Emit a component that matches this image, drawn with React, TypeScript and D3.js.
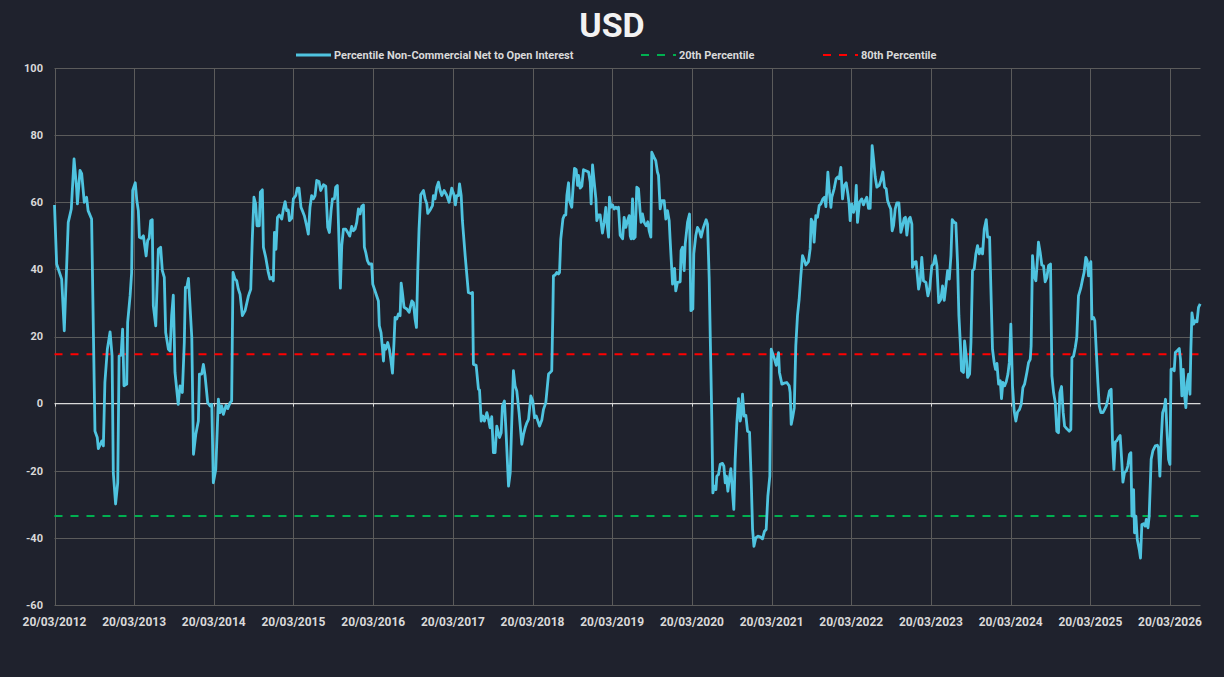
import React, { useRef, useEffect } from "react";
import * as d3 from "d3";

// weeks since 20/03/2012 and the percentile reading at that week
const weekIndex = [
  0, 1.4, 4.7, 6.4, 9, 11, 12.8, 14.5, 15, 16.7, 17.8, 19.5, 21, 22, 24.3, 26.5, 28, 28.7, 31, 32, 33, 34.6, 36.4, 37.7,
  38.5, 40, 41.4, 42.3, 43.6, 44.6, 45.5, 47.3, 47.9, 49.5, 50.5, 51.2, 52.9, 53.9, 54.9, 55.6, 57, 58.2, 60, 61, 62,
  63, 64, 64.7, 66.3, 68, 69.5, 70.6, 71.9, 72.8, 74.6, 75.7, 76.7, 77.8, 78.9, 81, 82.2, 83.7, 85, 85.7, 86.6, 87.7,
  89.9, 91, 92.5, 94.2, 94.9, 96.4, 97.5, 98.6, 100.3, 101.9, 103, 104, 105.6, 107.3, 108.4, 109.5, 110.6, 112.3,
  113.4, 115, 116, 116.9, 118.2, 119.3, 120.4, 121.5, 123, 124.8,
  127, 128.5, 129.5, 130.6, 131.7, 132.6, 134.1, 134.8, 136.1, 136.8, 138.3, 140, 141.1, 142.2, 143.3, 144, 145, 146,
  147.2, 148.8, 149.9, 151, 152, 153.1, 153.8, 155.3, 156.4, 158, 159, 160.1, 161.4, 162.3, 163.6, 165.1, 166.2, 167.3,
  168.4, 169.5, 170.6, 171.7, 173.2, 174.3, 176.1, 177.6, 178.9, 180, 181.1, 182, 183.3, 184.1, 185.2, 186.3, 187.2,
  188.1, 189.2, 190.7, 192, 193.3, 194.6, 195.7, 196.8, 197.9, 199, 200.1, 201.2, 202.3, 202.9, 203.8, 204.9, 206,
  207.7, 208.4, 210.6, 212.1, 212.7, 213.8, 214.7, 215.4, 216, 216.9, 218.2, 219.3, 220.2, 221.3, 222.3, 223, 224.1,
  225.2, 226.3, 227, 227.8, 228.9, 230.7, 232.2, 234, 235, 236.1, 237, 237.9, 238.7, 239.8, 241.6, 242.7, 243.8,
  244.4, 246, 247.5, 248.1, 249.2, 250.3, 251.4, 252.5,
  253.6, 255.1, 256.9, 258.4, 260.1, 261.7, 262.5, 263.4, 264.5, 265.2, 266.3, 267.1, 268.9, 271, 272.6, 273.7, 274.3,
  276.1, 277.6, 278.3, 279.4, 280.5, 281.5, 283.1, 284.2, 285.2, 286.3, 287.4, 288.5, 289.6, 291.4, 292.5, 293.3,
  294.6, 295.7, 297.3, 298.4, 299.4, 300.5, 301.6, 302.7, 304.2, 306, 307.1, 308.2, 309.3, 310.4, 311.9, 313.2, 314.3,
  315.4, 316.3, 317.6, 319.1, 320.2, 321.7, 323.5, 324.6, 325.6, 326.3, 326.7, 327.8, 328.9, 330, 330.7, 331.5, 332.9,
  333.7, 334.8, 335.5, 336.6, 337.2, 338.7, 339.8, 340.5, 341.6, 342.5, 343.1, 344.2, 345.3, 346.4, 347.9, 349.7,
  350.8, 351.4, 352.3, 353.4, 354.5, 355.1, 356.2, 357.3, 358.8, 359.9, 361, 361.7, 362.8, 363.4, 364.3, 365.4, 366.5,
  367.6, 368.7, 369.3, 370.4, 372, 373, 374.1, 375.2, 376.3, 377, 377.6, 378.5, 379.2, 380.2, 381.3,
  382.4, 383.5, 384.1, 385, 386.1, 387.4, 388.5, 389.4, 390.5, 391.1, 392.6, 393.7, 394.8, 395.5, 396.6, 397.7, 399.2,
  400.3, 401.4, 402.5, 403.1, 404.7, 406, 406.8, 407.9, 409.7, 410.3, 411.2, 412.3, 413, 414.5, 415.8, 416.7, 418,
  418.6, 419.9, 421, 422.3, 423.4, 424.9, 426.7, 427.6, 428.7, 429.5, 430.4, 431.1, 432, 433.1, 433.7, 434.8, 435.9,
  437.4, 438.3, 439.2, 440, 440.9, 441.8, 442.9, 444, 444.8, 445.7, 446.8, 447.9, 449, 449.6, 450.5, 451.6, 452.7,
  453.8, 455.1, 456.2, 457.1, 458, 459.2, 460.5, 462.1, 463.6, 464.9, 466, 467.1, 468.4, 469.3, 470.4, 471.5, 472.6,
  474.1, 474.7, 476.3, 477.8, 479.5, 481.1, 481.7, 482.4, 483.3, 484.4, 485.4, 486.5, 487.6, 488.7, 489.8, 491.1, 492,
  493.7, 494.8, 495.5, 496.6, 497.4, 498.5, 499.6, 500.7, 501.8, 503.1, 504.2, 505.1, 506.4, 507.3, 508.4,
  509, 510.5, 511.8, 512.9, 513.8, 514.9, 516, 517.1, 518.4, 519.5, 520.3, 521, 522.1, 523.2, 524.3, 525, 525.8, 527.1,
  528.6, 529.7, 530.8, 531.9, 533, 534.1, 535.4, 536.3, 537.4, 538.5, 540, 541.1, 542.4, 543.5, 544.6, 545.5, 546.5,
  547.6, 548.5, 549.4, 550.5, 551.6, 552.9, 554.2, 555.3, 556.4, 557.2, 558.1, 559.4, 560.3, 561.4, 561.8, 563.1,
  564.2, 565.8, 566.9, 567.9, 569, 570.6, 571.9, 573, 574.5, 575.6, 576.7, 577.8, 579, 580.4, 581.5, 582.6, 583.7,
  584.8, 585.9, 587, 587.8, 589.1, 590.2, 591.3, 592.2, 593.1, 593.9, 595.2, 595.9, 597, 597.9, 599.2, 600.1, 601.1,
  602.2, 603.3, 604.4, 605.5, 606.6, 607.7, 608.8, 610.1, 611, 612.3, 613.1, 614.2, 615.3, 616.2, 617.1, 618.2, 619.3,
  620.1, 621, 622.1, 623.2, 624.3, 625.2, 626.2, 627.3, 628.4, 629.5, 630.6, 631.9, 633, 634.1, 635.2,
  636.7, 637.8, 638.9, 639.5, 640.4, 641.5, 642.6, 643.5, 644.3, 645.4, 646.5, 647.6, 648.7, 649.8, 650.9, 652.2,
  653.1, 654.2, 655.3, 656.3, 657.4, 658.3, 659.4, 660.5, 661.4, 662.9, 664.4, 665.5, 666.2, 667.3, 668.4, 669.4,
  670.5, 672.1, 673.2, 674.2, 675.3, 676.2, 677.1, 677.7, 678.6, 679.3, 680.4, 681.2, 682.1, 683.2, 684.1, 685.2,
  686.5, 687.6, 688.7, 689.7, 690.8, 691.9, 692.8, 693.7, 694.6, 695.6, 696.7, 697.8, 698.9, 699.6, 700.7, 701.8,
  702.8, 703.9, 704.8, 705.5, 706.6, 707.2, 708.1, 709, 710.3, 711.1, 712, 713.1, 714.2, 714.9, 716, 716.8, 718.1,
  719.2, 720.8, 722.1, 722.9, 723.8, 724.7, 725.6, 726.7, 727.5, 728.4, 729.5, 730.4, 731.1, 732.4, 733.2, 733.9, 735,
  736.5, 737.3, 738.2, 739.1, 740, 740.8, 741.7, 742.6, 743.5, 744.1, 744.8, 745.9, 747, 748.1, 749.1, 750.2,
];

const netToOpenInterest = [
  59.2, 41.6, 37.1, 21.7, 54, 58, 72.9, 64, 59.5, 69.5, 68.5, 60, 61.5, 57.5, 55, -8.2, -10.1, -13.4, -11.1, -12.6,
  6.3, 16.2, 21.4, 14.2, -20.6, -29.9, -23.6, 14.2, 14.4, 22.2, 5.3, 5.8, 24.2, 32.1, 39, 63.5, 65.8, 60.5, 57.5,
  49.6, 49.3, 50, 44, 48.6, 49.3, 54.5, 54.8, 29.2, 23.2, 46, 46.6, 39.6, 37.6, 21.2, 16.2, 15.7, 26.2, 32.3, 9.3,
  -0.2, 5.3, 3.3, 18.2, 34.6, 34.6, 37.3, 19.7, -15.1, -9.2, -5.2, 8.8, 8.8, 11.7, 8.3, 0.3, -0.7, -0.2, -23.6, -19.6,
  1.3, -2.7, -0.7, -3.2, -0.5, -1.5, 0.3, 0.8, 39.1, 37.1, 36.6, 34.1, 32.6, 26.2, 27.7,
  32.1, 34.1, 49, 61.5, 59.5, 53, 53, 63, 63.7, 46.6, 43.6, 39.1, 37.1, 37.6, 36.6, 51, 46, 55.5, 56.2, 55, 58, 60.2,
  57.5, 57.7, 54.5, 55.2, 61, 62, 64.2, 64.2, 58.5, 57.5, 56, 53, 50.5, 58.5, 62, 61, 62, 66.5, 66.2, 63.5, 65.2,
  64.8, 52.5, 51, 57.5, 61, 61, 64.5, 65, 48.1, 34.4, 47.1, 52, 52, 51, 49.9, 52.8, 51.5, 52, 54, 58, 56.5, 58.8,
  59.2, 46.6, 45.1, 42.6, 41.6, 41.6, 35.6, 32.6, 30.6, 23.2, 21.2, 16.7, 12.7, 17.4, 16.2, 18.2, 16.2, 13.2, 9.1,
  18.2, 25.7, 25.2, 26.7, 26.2, 35.9, 33.1, 28.7, 28.2, 27.2, 30.6, 30.1, 25.2, 22.7, 40.1, 52, 62.2, 63.5, 61, 59.5,
  56.7, 57.7, 59, 62, 61, 64.5, 66, 63.5,
  62, 63.5, 62, 60, 64.2, 62, 59.2, 62, 62, 65.5, 62, 54.5, 44.1, 33.1, 32.8, 33.1, 11.7, 11.4, 4.3, 4.1, -5.2, -3.7,
  -5.2, -2.7, -4.7, -7.2, -3.9, -14.6, -14.6, -6.7, -10.1, -8.7, -0.7, 0.8, -8.7, -24.6, -20.6, -5.7, 9.8, 5.3, 3.8,
  -2.7, -12.1, -9.2, -7.2, -5.7, -4.7, 2.3, 0.8, -4.2, -3.7, -4.9, -6.7, -4.9, -1.7, 0.3, 8.8, 9.3, 9.8, 26.2, 38.1,
  38.3, 39.1, 38.6, 39.1, 49, 55, 56, 56.2, 62, 65.8, 60.5, 58.5, 66, 70.1, 69.7, 65, 68, 64.2, 64.8, 69.7, 69.4, 69,
  66, 59.5, 71.1, 66, 61, 54.5, 56.2, 56.2, 50.8, 54, 58.5, 54, 49.6, 61.5, 58.5, 59.2, 58, 58.5, 58, 58.5, 50.2,
  49.1, 55.5, 52.5, 54.5, 56, 50, 49.1, 61, 49.1, 49.6, 64.5,
  64, 57, 54, 56.5, 54, 53, 54.2, 51.5, 49.6, 74.9, 73.4, 72.4, 69, 68, 58, 60.5, 60.5, 55, 57.5, 54.5, 49, 35.6,
  40.3, 33.6, 36.1, 36.3, 45.6, 46.6, 39.6, 47.6, 54, 56.5, 27.7, 28.2, 44.6, 50, 52.5, 51.5, 49.6, 52.5, 54.8, 53.5,
  37.1, 17.2, -4.7, -26.6, -24.6, -25.6, -21.6, -21.1, -18.1, -17.8, -18.6, -23.6, -21.6, -26.1, -22.6, -19.4,
  -26.6, -31.5, -16.6, -5.7, 1.5, -5.2, -3.7, 2.8, -3.7, -3.5, -8.2, -8.5, -22.6, -37.5, -42.5, -40, -39.5, -39.7,
  -40.3, -38, -37.5, -27.6, -21.6, 16.2, 14.7, 13.2, 11.4, 15.2, 9.3, 5.8, 6.1, 6.3, 5.3, 3.3, -6.2, -4.2, -1.2,
  17.2, 26.2, 31.1, 38.1, 44.1, 42.6, 41.3, 42.3, 46.1, 55, 54, 48.1, 56, 55.5, 59, 59.5, 61, 61.5, 58.7, 69, 63.5,
  58.5,
  61.5, 64, 67, 67.5, 67, 70.4, 61, 65, 65.8, 62.5, 59.5, 54.5, 59.5, 57, 59, 65, 54, 60, 61, 59.2, 60.5, 61.5, 58.2,
  58.2, 76.9, 72.9, 67.5, 64.5, 65, 66.5, 69, 64.5, 64, 60.5, 59.2, 58, 51.5, 53, 58, 59.8, 59.8, 51, 53, 55.2, 55.5,
  50.2, 55, 55.5, 53.5, 40.6, 42.1, 42.3, 34.1, 36.6, 43.6, 36.6, 36.1, 32.1, 34.1, 41.1, 41.6, 44.1, 41.1, 30.1,
  31.1, 35.1, 30.8, 35.1, 39.6, 37.1, 44.1, 54.8, 54, 53.8, 42.1, 26.2, 18.2, 9.8, 9.3, 18.7, 14.2, 7.8, 8.8, 18.2,
  39.6, 40.1, 44.6, 47.1, 44.6, 46.1, 44.6, 52, 54.8, 49.6, 49.6, 35.1, 16.2, 12.2, 10.2, 12, 5.8, 6.8, 1.5, 6.3,
  5.3, 6.5, 8.8, 12.2, 23.7, 5.3, -2.2, -5.2, -2.5, -1.7, -0.2, 4.8, 5.8,
  9.3, 12.2, 13.2, 17.2, 44.1, 38.1, 36.6, 42.1, 48.1, 45.1, 41.3, 41.1, 36.3, 37.6, 41.1, 41.6, 8.3, 3.3, 0.3, -8.2,
  -8.7, 3.3, 5.1, -2.7, -6.7, -7.5, -8.2, -7.7, 13.7, 14.2, 16.7, 19.7, 32.1, 34.6, 37.1, 39.1, 43.6, 42.6, 38.1,
  41.1, 42.3, 25.2, 25.7, 24.7, 16.2, 6.3, -0.7, -2.7, -2.7, -1.7, -0.7, 1.3, 3.8, 4.3, -11.6, -19.6, -11.4, -11.1,
  -10.1, -9.5, -17.6, -23.4, -20.4, -20.1, -18.6, -15.1, -14.6, -33.5, -25.6, -38.5, -33.5, -40.5, -43.5, -46, -36,
  -35.8, -36.5, -34.5, -37, -33.5, -16.6, -14.1, -12.6, -12.4, -13.1, -21.6, -10.6, -2.7, -1.2, 1.3, -7.7, -16.6,
  -18.1, 10.2, 10.4, 9.8, 15.2, 15.7, 16.4, 13.2, 2.3, 10.2, 2.3, -1.2, 6.3, 8.8, 2.8, 16.2, 27, 23.7, 24.7, 24.4,
  28.7, 29.7,
];

const tickYears = d3.range(2012, 2027);
const yTicks = [-60, -40, -20, 0, 20, 40, 60, 80, 100];
const pct20 = -33.5;
const pct80 = 14.7;
const lastWeek = 750.4;

const WEEK = 7 * 24 * 3600 * 1000;
const START = Date.UTC(2012, 2, 20);

const App: React.FC = () => {
  const ref = useRef<SVGSVGElement>(null);

  useEffect(() => {
    if (!ref.current) return;
    const svg = d3.select(ref.current);
    svg.selectAll("*").remove();

    const width = 1224;
    const height = 677;
    const left = 54.5;
    const right = 1200.5;
    const top = 68;
    const bottom = 605;
    const font = "Roboto, 'Liberation Sans', sans-serif";

    svg.append("rect").attr("width", width).attr("height", height).attr("fill", "#1f222d");

    const x = d3
      .scaleUtc()
      .domain([new Date(START), new Date(START + lastWeek * WEEK)])
      .range([left, right]);
    const y = d3.scaleLinear().domain([-60, 100]).range([bottom, top]);

    const tickDates = tickYears.map((yr) => new Date(Date.UTC(yr, 2, 20)));
    const fmt = d3.utcFormat("%d/%m/%Y");

    // horizontal gridlines
    svg
      .append("g")
      .selectAll("line")
      .data(yTicks.filter((v) => v !== 0))
      .join("line")
      .attr("x1", left)
      .attr("x2", right)
      .attr("y1", (d) => Math.round(y(d)) + 0.5)
      .attr("y2", (d) => Math.round(y(d)) + 0.5)
      .attr("stroke", "#5b5b5b")
      .attr("stroke-width", 1);

    // vertical gridlines
    svg
      .append("g")
      .selectAll("line")
      .data(tickDates)
      .join("line")
      .attr("x1", (d) => Math.round(x(d)) + 0.5)
      .attr("x2", (d) => Math.round(x(d)) + 0.5)
      .attr("y1", top)
      .attr("y2", bottom)
      .attr("stroke", "#5b5b5b")
      .attr("stroke-width", 1);

    // zero axis line with small ticks
    svg
      .append("line")
      .attr("x1", left)
      .attr("x2", right)
      .attr("y1", y(0))
      .attr("y2", y(0))
      .attr("stroke", "#d9d9d9")
      .attr("stroke-width", 1.3);
    svg
      .append("g")
      .selectAll("line")
      .data(tickDates)
      .join("line")
      .attr("x1", (d) => Math.round(x(d)) + 0.5)
      .attr("x2", (d) => Math.round(x(d)) + 0.5)
      .attr("y1", y(0))
      .attr("y2", y(0) + 3)
      .attr("stroke", "#d9d9d9")
      .attr("stroke-width", 1);

    // percentile threshold lines
    const thresholds = [
      { v: pct20, color: "#00b050" },
      { v: pct80, color: "#ff0000" },
    ];
    svg
      .append("g")
      .selectAll("line")
      .data(thresholds)
      .join("line")
      .attr("x1", left)
      .attr("x2", right)
      .attr("y1", (d) => y(d.v))
      .attr("y2", (d) => y(d.v))
      .attr("stroke", (d) => d.color)
      .attr("stroke-width", 2)
      .attr("stroke-dasharray", "8,8");

    // series
    const points = weekIndex.map((w, i) => ({
      date: new Date(START + w * WEEK),
      value: netToOpenInterest[i],
    }));
    const line = d3
      .line<{ date: Date; value: number }>()
      .x((d) => x(d.date))
      .y((d) => y(d.value));
    svg
      .append("path")
      .datum(points)
      .attr("fill", "none")
      .attr("stroke", "#4fc4e0")
      .attr("stroke-width", 2.8)
      .attr("stroke-linejoin", "round")
      .attr("d", line);

    // y labels
    svg
      .append("g")
      .selectAll("text")
      .data(yTicks)
      .join("text")
      .attr("x", 43)
      .attr("y", (d) => y(d))
      .attr("dy", "0.35em")
      .attr("text-anchor", "end")
      .attr("font-family", font)
      .attr("font-weight", "bold")
      .attr("font-size", 11)
      .attr("fill", "#d9d9d9")
      .text((d) => d);

    // x labels
    svg
      .append("g")
      .selectAll("text")
      .data(tickDates)
      .join("text")
      .attr("x", (d) => x(d))
      .attr("y", 622)
      .attr("dy", "0.35em")
      .attr("text-anchor", "middle")
      .attr("font-family", font)
      .attr("font-weight", "bold")
      .attr("font-size", 12)
      .attr("fill", "#d9d9d9")
      .text((d) => fmt(d));

    // title
    svg
      .append("text")
      .attr("x", 612)
      .attr("y", 37)
      .attr("text-anchor", "middle")
      .attr("font-family", font)
      .attr("font-weight", "bold")
      .attr("font-size", 34)
      .attr("fill", "#f2f2f2")
      .text("USD");

    // legend
    const legend = [
      { x: 296, label: "Percentile Non-Commercial Net to Open Interest", color: "#4fc4e0", dash: null, w: 3 },
      { x: 641, label: "20th Percentile", color: "#00b050", dash: "8,8", w: 2 },
      { x: 823, label: "80th Percentile", color: "#ff0000", dash: "8,8", w: 2 },
    ];
    const lg = svg.append("g");
    legend.forEach((item) => {
      lg.append("line")
        .attr("x1", item.x)
        .attr("x2", item.x + 35)
        .attr("y1", 55)
        .attr("y2", 55)
        .attr("stroke", item.color)
        .attr("stroke-width", item.w)
        .attr("stroke-dasharray", item.dash);
      lg.append("text")
        .attr("x", item.x + 38)
        .attr("y", 55)
        .attr("dy", "0.35em")
        .attr("font-family", font)
        .attr("font-weight", "bold")
        .attr("font-size", 11)
        .attr("fill", "#d9d9d9")
        .text(item.label);
    });
  }, []);

  return (
    <>
      <style>{"body{margin:0;background:#1f222d}"}</style>
      <svg ref={ref} width={1224} height={677} style={{ display: "block" }}></svg>
    </>
  );
};

export default App;
